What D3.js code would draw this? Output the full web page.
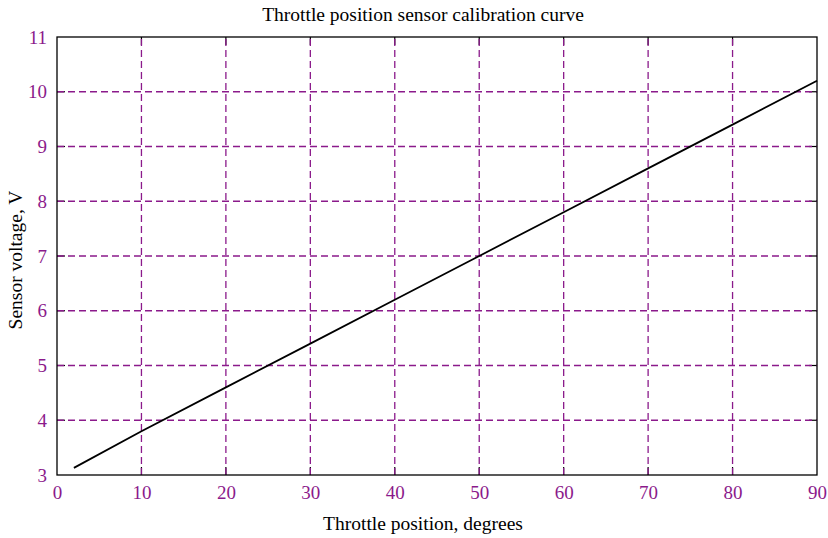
<!DOCTYPE html>
<html><head><meta charset="utf-8">
<script src="https://cdn.jsdelivr.net/npm/d3@7"></script>
<style>body{margin:0;background:#fff}svg{display:block}</style>
</head><body>
<svg id="c" width="828" height="538"></svg>
<script>
const xPos = [2, 10, 20, 30, 40, 50, 60, 70, 80, 90];
const voltage = [3.13, 3.8, 4.6, 5.4, 6.2, 7.0, 7.8, 8.6, 9.4, 10.2];
const xTicks = [0, 10, 20, 30, 40, 50, 60, 70, 80, 90];
const yTicks = [3, 4, 5, 6, 7, 8, 9, 10, 11];
const title = "Throttle position sensor calibration curve";
const xLabel = "Throttle position, degrees";
const yLabel = "Sensor voltage, V";

const svg = d3.select("#c");
const m = {l: 57, r: 817, t: 37, b: 475};
const x = d3.scaleLinear().domain([0, 90]).range([m.l, m.r]);
const y = d3.scaleLinear().domain([3, 11]).range([m.b, m.t]);
const purple = "#8b1a8b";
const font = "'Liberation Serif', 'Times New Roman', serif";

// tick marks (black, inward, mirrored)
const tl = 8;
const g = svg.append("g");
xTicks.slice(1, -1).forEach(v => {
  g.append("line").attr("x1", x(v)).attr("x2", x(v)).attr("y1", m.b).attr("y2", m.b - tl).attr("stroke", "#000").attr("stroke-width", 1.2);
  g.append("line").attr("x1", x(v)).attr("x2", x(v)).attr("y1", m.t).attr("y2", m.t + tl).attr("stroke", "#000").attr("stroke-width", 1.2);
});
yTicks.slice(1, -1).forEach(v => {
  g.append("line").attr("y1", y(v)).attr("y2", y(v)).attr("x1", m.l).attr("x2", m.l + tl).attr("stroke", "#000").attr("stroke-width", 1.2);
  g.append("line").attr("y1", y(v)).attr("y2", y(v)).attr("x1", m.r).attr("x2", m.r - tl).attr("stroke", "#000").attr("stroke-width", 1.2);
});

// grid
svg.append("g").selectAll("line").data(xTicks.slice(1, -1)).join("line")
  .attr("x1", d => x(d)).attr("x2", d => x(d)).attr("y1", m.b).attr("y2", m.t)
  .attr("stroke", purple).attr("stroke-width", 1.3).attr("stroke-dasharray", "7,4");
svg.append("g").selectAll("line").data(yTicks.slice(1, -1)).join("line")
  .attr("y1", d => y(d)).attr("y2", d => y(d)).attr("x1", m.l).attr("x2", m.r)
  .attr("stroke", purple).attr("stroke-width", 1.3).attr("stroke-dasharray", "7,4");

// frame
svg.append("rect").attr("x", m.l).attr("y", m.t).attr("width", m.r - m.l).attr("height", m.b - m.t)
  .attr("fill", "none").attr("stroke", "#000").attr("stroke-width", 1.3);

// axes labels via d3 axes (ticks hidden)
const xa = svg.append("g").attr("transform", `translate(0,${m.b})`)
  .call(d3.axisBottom(x).tickValues(xTicks).tickSize(0).tickPadding(11).tickFormat(d3.format("d")));
const ya = svg.append("g").attr("transform", `translate(${m.l},0)`)
  .call(d3.axisLeft(y).tickValues(yTicks).tickSize(0).tickPadding(10).tickFormat(d3.format("d")));
[xa, ya].forEach(a => {
  a.select(".domain").remove();
  a.selectAll("text").attr("fill", purple).style("font-family", font).style("font-size", "19px");
});

// line
svg.append("path").datum(xPos.map((d, i) => [d, voltage[i]]))
  .attr("d", d3.line().x(d => x(d[0])).y(d => y(d[1])))
  .attr("fill", "none").attr("stroke", "#000").attr("stroke-width", 1.8);

svg.append("text").attr("x", 423).attr("y", 21).attr("text-anchor", "middle")
  .style("font-family", font).style("font-size", "19.5px").text(title);
svg.append("text").attr("x", 423).attr("y", 530).attr("text-anchor", "middle")
  .style("font-family", font).style("font-size", "19.5px").text(xLabel);
svg.append("text").attr("transform", "translate(22,260) rotate(-90)").attr("text-anchor", "middle")
  .style("font-family", font).style("font-size", "19.5px").text(yLabel);
</script>
</body></html>
